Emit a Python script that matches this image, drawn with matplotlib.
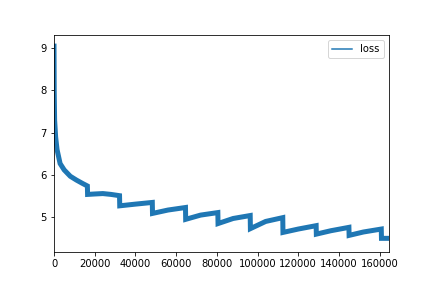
import matplotlib
matplotlib.use("Agg")
import matplotlib.pyplot as plt
import pandas as pd

# training loss (step, loss), one block per epoch
steps = [0, 100, 300, 800, 1500, 3000, 5000, 8000, 11000, 14000, 16400,
         16500, 20000, 24000, 28000, 32200,
         32300, 40000, 48300,
         48400, 56000, 64600,
         64700, 72000, 80500,
         80600, 88000, 96400,
         96500, 104000, 112400,
         112500, 120000, 128800,
         128900, 136000, 144900,
         145000, 152000, 160800,
         160900, 164500]
loss = [9.05, 8.0, 7.3, 6.9, 6.6, 6.27, 6.12, 5.97, 5.88, 5.8, 5.74,
        5.54, 5.55, 5.56, 5.54, 5.51,
        5.27, 5.31, 5.35,
        5.09, 5.17, 5.23,
        4.95, 5.05, 5.11,
        4.85, 4.97, 5.04,
        4.73, 4.9, 4.99,
        4.64, 4.72, 4.8,
        4.6, 4.68, 4.76,
        4.57, 4.65, 4.72,
        4.5, 4.5]

df = pd.DataFrame({"loss": loss}, index=steps)

fig = plt.figure(figsize=(6, 4), dpi=72)
ax = fig.add_subplot(111)
fig.subplots_adjust(left=0.125, right=0.9, bottom=0.124, top=0.878)

df.plot(ax=ax, lw=5, color="#1f77b4", solid_joinstyle="miter")
ax.set_xlim(0, 164500)
ax.set_ylim(4.17, 9.31)

leg = ax.legend(loc="upper right")
for h in leg.get_lines():
    h.set_linewidth(1.5)

fig.savefig("out.png", dpi=72)
